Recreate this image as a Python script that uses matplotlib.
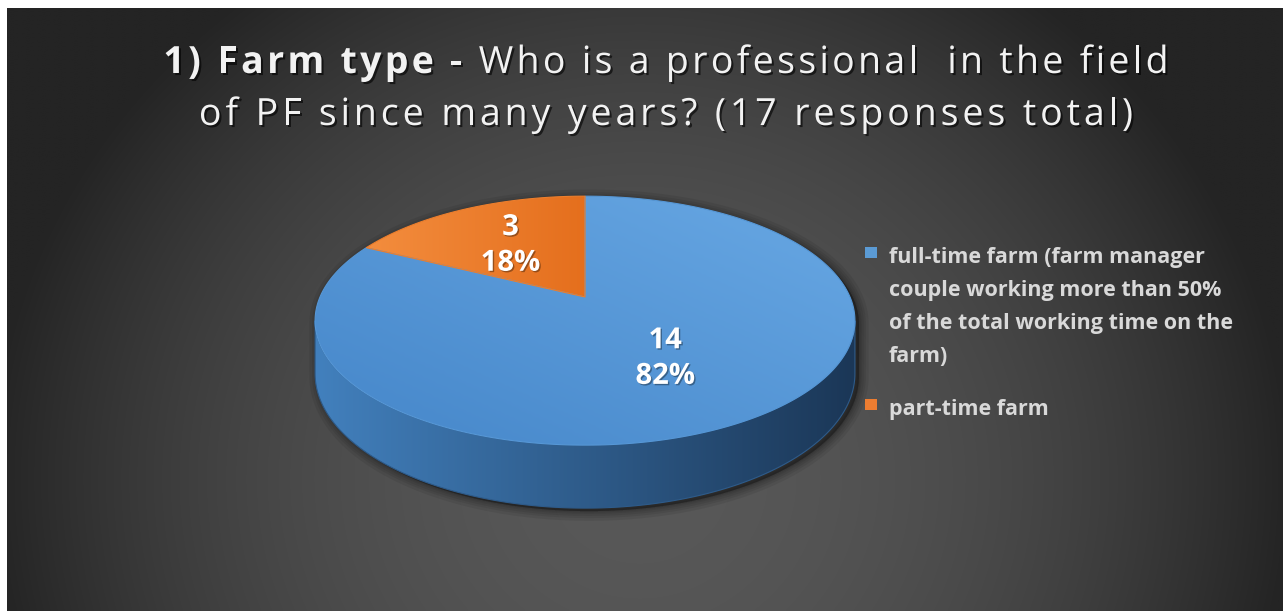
import numpy as np
import matplotlib.pyplot as plt
from matplotlib.patches import Polygon, Rectangle
from matplotlib.colors import LinearSegmentedColormap
from matplotlib.font_manager import FontProperties
import matplotlib.patheffects as pe

# survey answers
categories = ['full-time farm (farm manager\ncouple working more than 50%\nof the total working time on the\nfarm)',
              'part-time farm']
counts = [14, 3]
top_colors = [('#68a8e4', '#4586c9'), ('#f38d3e', '#e56f1d')]
side_colors = [('#4280bd', '#1b3757'), ('#c9621c', '#8a3e0c')]
legend_colors = ['#5b9bd5', '#ed7d31']

title_bold = '1) Farm type - '
title_rest = 'Who is a professional  in the field'
title_line2 = 'of PF since many years? (17 responses total)'

W, H = 1283, 611
FONT = 'Open Sans'

fig = plt.figure(figsize=(W / 100, H / 100), dpi=100, facecolor='white')
ax = fig.add_axes([0, 0, 1, 1])
renderer = fig.canvas.get_renderer()

# dark radial background of the chart area
x0, y0 = 7, 8
xx, yy = np.meshgrid(np.linspace(x0, W, 400), np.linspace(y0, H, 200))
d = np.sqrt(((xx - 640) / 640) ** 2 + ((yy - 480) / 600) ** 2)
val = np.clip(88 - 50 * d ** 2, 36, 90) / 255
ax.imshow(np.dstack([val] * 3), extent=(x0, W, H, y0), interpolation='bilinear',
          aspect='auto', zorder=0)


def gradient_fill(xs, ys, c1, c2, angle, zorder):
    poly = Polygon(np.column_stack([xs, ys]), closed=True, facecolor='none',
                   edgecolor='none', zorder=zorder)
    ax.add_patch(poly)
    xmin, xmax, ymin, ymax = min(xs), max(xs), min(ys), max(ys)
    gx, gy = np.meshgrid(np.linspace(0, 1, 200), np.linspace(0, 1, 120))
    a = np.radians(angle)
    p = gx * np.cos(a) + gy * np.sin(a)
    p = (p - p.min()) / (p.max() - p.min())
    cmap = LinearSegmentedColormap.from_list('g', [c1, c2])
    im = ax.imshow(p, cmap=cmap, extent=(xmin, xmax, ymax, ymin), aspect='auto',
                   interpolation='bilinear', zorder=zorder)
    im.set_clip_path(poly)
    # soften the clipped outline
    ax.add_patch(Polygon(np.column_stack([xs, ys]), closed=True, facecolor='none',
                         edgecolor=cmap(0.5), lw=0.8, zorder=zorder + 0.1))


# 3d pie with a little perspective
cx, cy = 585, 297
A, B, DEPTH, S = 265, 120, 51, 0.19


def project(t, r=1.0, z=0.0):
    u, v = r * np.cos(t), r * np.sin(t)
    k = 1 / (1 + S * v)
    return cx + A * u * k, cy - (B * v + DEPTH * z) * k


fracs = np.array(counts) / sum(counts)
starts = np.pi / 2 - np.concatenate([[0], np.cumsum(fracs)[:-1]]) * 2 * np.pi
spans = fracs * 2 * np.pi

# drop shadow behind the pie
t_back = np.linspace(-np.arcsin(S), np.pi + np.arcsin(S), 200)
t_front = np.linspace(np.pi + np.arcsin(S), 2 * np.pi - np.arcsin(S), 200)
bx, by = project(t_back)
fx, fy = project(t_front, z=-1)
sil_x = np.concatenate([bx, fx]) + 4
sil_y = np.concatenate([by, fy]) + 3
for lw in [14, 10, 7, 4, 2]:
    ax.add_patch(Polygon(np.column_stack([sil_x, sil_y]), closed=True, facecolor='black',
                         edgecolor='black', lw=lw, alpha=0.07, zorder=1))

# outer wall, only the front part is visible
for i in range(len(counts)):
    lo = starts[i] - spans[i]
    tt = t_front[((t_front - lo) % (2 * np.pi)) <= spans[i]]
    if len(tt) < 2:
        continue
    tx, ty = project(tt)
    ux, uy = project(tt[::-1], z=-1)
    gradient_fill(np.concatenate([tx, ux]), np.concatenate([ty, uy]),
                  side_colors[i][0], side_colors[i][1], 0, 2)

# top faces
for i in range(len(counts)):
    tt = np.linspace(starts[i], starts[i] - spans[i], 300)
    ex, ey = project(tt)
    gradient_fill(np.concatenate([[cx], ex]), np.concatenate([[cy], ey]),
                  top_colors[i][0], top_colors[i][1], 135 if i == 0 else 0, 3)

# value labels
shadow = [pe.withSimplePatchShadow(offset=(1, -1), shadow_rgbFace='black', alpha=0.35)]
for i in range(len(counts)):
    mid = starts[i] - spans[i] / 2
    lx, ly = project(mid, r=0.55)
    ax.text(lx - 4, ly, '%d\n%d%%' % (counts[i], round(fracs[i] * 100)), color='white',
            fontsize=21, fontweight='bold', family=FONT, ha='center', va='center',
            linespacing=1.3, zorder=5, path_effects=shadow)


# title, drawn glyph by glyph to get the wide letter spacing
def advance(ch, prop):
    w1 = renderer.get_text_width_height_descent('|' + ch + '|', prop, ismath=False)[0]
    w0 = renderer.get_text_width_height_descent('||', prop, ismath=False)[0]
    return w1 - w0


def spaced_line(segments, xc, y, size, spacing):
    glyphs = []
    for text, weight in segments:
        prop = FontProperties(family=FONT, size=size, weight=weight)
        for ch in text:
            glyphs.append((ch, weight, advance(ch, prop)))
    total = sum(g[2] for g in glyphs) + spacing * (len(glyphs) - 1)
    x = xc - total / 2
    tshadow = [pe.withSimplePatchShadow(offset=(1.5, -1.5), shadow_rgbFace='black', alpha=0.6)]
    for ch, weight, w in glyphs:
        if ch != ' ':
            ax.text(x, y, ch, fontsize=size, fontweight=weight, family=FONT, color='#f2f2f2',
                    ha='left', va='baseline', path_effects=tshadow, zorder=5)
        x += w + spacing


spaced_line([(title_bold, 'bold'), (title_rest, 'normal')], 666, 73, 27, 3.3)
spaced_line([(title_line2, 'normal')], 666, 125, 27, 3.9)

# legend
leg_base = [263, 415]
for i in range(len(counts)):
    ax.add_patch(Rectangle((865, leg_base[i] - 16), 12, 11, facecolor=legend_colors[i],
                           edgecolor='none', zorder=5))
    for j, line in enumerate(categories[i].split('\n')):
        ax.text(889, leg_base[i] + j * 33, line, fontsize=15.5, fontweight='bold', family=FONT,
                color='#d9d9d9', va='baseline', ha='left', zorder=5)

ax.set_xlim(0, W)
ax.set_ylim(H, 0)
ax.axis('off')
fig.savefig('out.png', dpi=100, facecolor='white')
